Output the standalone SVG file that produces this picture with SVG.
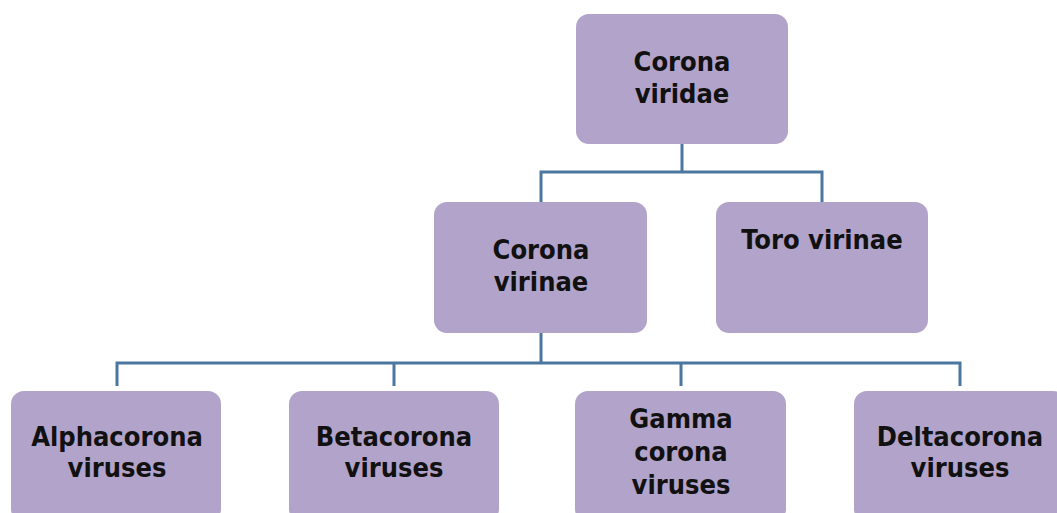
<svg xmlns="http://www.w3.org/2000/svg" width="1057" height="513" viewBox="0 0 1057 513">
<style>
.box{fill:#b1a3c9;}
.t{font-family:"DejaVu Sans Condensed","DejaVu Sans",sans-serif;font-stretch:condensed;font-weight:bold;font-size:27px;fill:#111;text-anchor:middle;}
.c{fill:none;stroke:#4a76a0;stroke-width:3;}
</style>
<rect width="1057" height="513" fill="#ffffff"/>
<g id="connectors">
<path class="c" d="M682 144V172M541 202V172H822V202"/>
<path class="c" d="M541 333V363M117 386V363H960V386M394 363V386M681 363V386"/>
</g>
<g id="n-viridae"><rect class="box" x="576" y="14" width="212" height="130" rx="13"/><text class="t" x="682" y="71">Corona</text><text class="t" x="682" y="103">viridae</text></g>
<g id="n-coronavirinae"><rect class="box" x="434" y="202" width="213" height="131" rx="13"/><text class="t" x="541" y="259">Corona</text><text class="t" x="541" y="291">virinae</text></g>
<g id="n-torovirinae"><rect class="box" x="716" y="202" width="212" height="131" rx="13"/><text class="t" x="822" y="249">Toro virinae</text></g>
<g id="n-alpha"><rect class="box" x="11" y="391" width="210" height="131" rx="13"/><text class="t" x="117" y="446">Alphacorona</text><text class="t" x="117" y="477">viruses</text></g>
<g id="n-beta"><rect class="box" x="289" y="391" width="210" height="131" rx="13"/><text class="t" x="394" y="446">Betacorona</text><text class="t" x="394" y="477">viruses</text></g>
<g id="n-gamma"><rect class="box" x="575" y="391" width="211" height="131" rx="13"/><text class="t" x="681" y="428">Gamma</text><text class="t" x="681" y="461">corona</text><text class="t" x="681" y="494">viruses</text></g>
<g id="n-delta"><rect class="box" x="854" y="391" width="212" height="131" rx="13"/><text class="t" x="960" y="446">Deltacorona</text><text class="t" x="960" y="477">viruses</text></g>
</svg>
